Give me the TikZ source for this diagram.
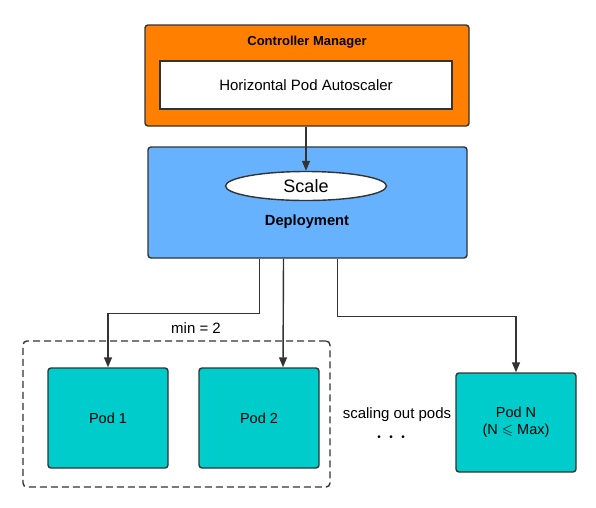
\documentclass[tikz,border=0pt]{standalone}
\usepackage{fontspec}
\setmainfont{Liberation Sans}
\usepackage{amssymb}
\usetikzlibrary{shapes.geometric,arrows.meta}

\definecolor{mgrorange}{HTML}{FF8000}
\definecolor{depblue}{HTML}{66B2FF}
\definecolor{podteal}{HTML}{00CCCC}
\definecolor{linegray}{HTML}{333333}

\tikzset{
  box/.style={draw=linegray,line width=1.4pt,rounded corners=3pt,inner sep=0pt},
  pod/.style={box,fill=podteal,minimum width=120pt,minimum height=100pt,align=center,font=\fontsize{14.5}{17}\selectfont},
  link/.style={draw=linegray,line width=1.4pt,-{Triangle[length=10pt,width=8pt]}},
  txt/.style={font=\fontsize{15}{17}\selectfont}
}

\begin{document}
\begin{tikzpicture}[x=1pt,y=-1pt]
	\useasboundingbox (0,0) rectangle (596,507);

	% controller manager with the autoscaler inside
	\node[box,fill=mgrorange,minimum width=324pt,minimum height=101pt] (cm) at (307,75.5) {};
	\node[font=\fontsize{13}{15}\selectfont\bfseries] (cmlabel) at (307,42) {Controller Manager};
	\node[box,fill=white,rounded corners=0pt,minimum width=292pt,minimum height=48pt,txt] (hpa) at (306,85) {Horizontal Pod Autoscaler};

	% deployment
	\node[box,fill=depblue,minimum width=319pt,minimum height=111pt] (dep) at (307.5,202.5) {};
	\node[draw=linegray,line width=1.4pt,fill=white,ellipse,minimum width=161pt,minimum height=29pt,inner sep=0pt,font=\fontsize{18}{20}\selectfont] (scale) at (306,186) {Scale};
	\node[font=\fontsize{14.7}{17}\selectfont\bfseries] (deplabel) at (307,222) {Deployment};

	% pods
	\node[draw=linegray,line width=1.4pt,dash pattern=on 7pt off 4pt,rounded corners=4pt,minimum width=307pt,minimum height=146pt] (group) at (176.5,414) {};
	\node[txt] (minlabel) at (196,328) {min = 2};
	\node[pod] (pod1) at (108,418) {Pod 1};
	\node[pod] (pod2) at (259,418) {Pod 2};
	\node[pod,minimum height=99pt] (podN) at (516,422.5) {Pod N\\(N $\leqslant$ Max)};
	\node[txt] (scaleout) at (397,415) {scaling out pods};
	\node[font=\fontsize{10}{10}\selectfont] (dots) at (391,438) {\textbullet\hspace{8.5pt}\textbullet\hspace{8.5pt}\textbullet};

	\draw[link] (scale.north |- cm.south) -- (scale.north);
	\draw[link] ([xshift=-48pt]dep.south) -- ++(0,55) -| (pod1.north);
	\draw[link] ([xshift=-24pt]dep.south) -- ([xshift=24pt]pod2.north);
	\draw[link] ([xshift=30pt]dep.south) -- ++(0,58) -| (podN.north);
\end{tikzpicture}
\end{document}
